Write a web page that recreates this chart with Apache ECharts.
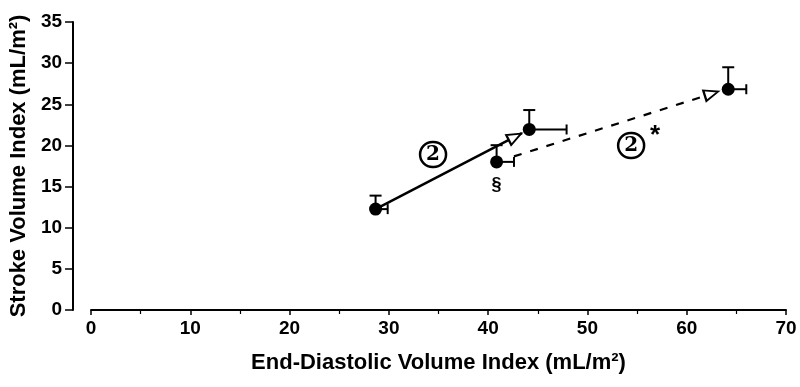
<!DOCTYPE html>
<html>
<head>
<meta charset="utf-8">
<script src="https://cdn.jsdelivr.net/npm/echarts@6/dist/echarts.min.js"></script>
<style>html,body{margin:0;padding:0;background:#fff}#c{width:800px;height:387px}</style>
</head>
<body>
<div id="c"></div>
<script>
// Points: [EDVI, SVI]
const pointNames = ['A', 'B', 'C', 'D'];
const edvi = [28.66, 44.14, 40.85, 64.18];
const svi = [12.26, 21.94, 18.0, 26.83];
// error bar extents (upper y, right x)
const sviUpper = [13.9, 24.3, 20.03, 29.5];
const edviRight = [29.88, 47.9, 42.6, 66.0];
// solid trajectory (A -> B), ending at arrow tip
const solidLine = [[28.66, 12.26], [43.4, 21.5]];
// dashed trajectory (C -> D), from C's error cap to arrow tip
const dashedLine = [[42.6, 18.67], [63.1, 26.5]];
// open arrowheads [x, y]
const arrowHeads = [[42.7, 21.05], [62.5, 26.3]];
const arrowRotate = [-62.6, -72.6];
// annotation texts [x, y]
const annoCircle = [[34.45, 18.9], [54.4, 20.0]];
const annoStar = [[56.8, 21.2]];
const annoSection = [[40.85, 15.2]];
const xTicks = [0, 10, 20, 30, 40, 50, 60, 70];
const yTicks = [0, 5, 10, 15, 20, 25, 30, 35];

const chart = echarts.init(document.getElementById('c'), null, {renderer: 'canvas'});
const F = '"Liberation Sans", Arial, sans-serif';
const S = '"DejaVu Serif", serif';

const errData = edvi.map((x, i) => [x, svi[i], sviUpper[i], edviRight[i]]);
const textItem = {color: '#000', opacity: 1};

chart.setOption({
  animation: false,
  grid: {left: 91, right: 14, top: 22, bottom: 77, containLabel: false},
  xAxis: {
    type: 'value', min: 0, max: 70, interval: 10,
    axisLine: {show: true, onZero: false, lineStyle: {color: '#000', width: 2}},
    axisTick: {show: true, length: 5, lineStyle: {color: '#000', width: 1.5}},
    minorTick: {show: true, splitNumber: 2, length: 4, lineStyle: {color: '#000', width: 1.2}},
    splitLine: {show: false},
    axisLabel: {color: '#000', fontFamily: F, fontWeight: 'bold', fontSize: 19, margin: 9},
    name: 'End-Diastolic Volume Index (mL/m²)',
    nameLocation: 'middle', nameGap: 42,
    nameTextStyle: {color: '#000', fontFamily: F, fontWeight: 'bold', fontSize: 22}
  },
  yAxis: {
    type: 'value', min: 0, max: 35, interval: 5, offset: 18,
    axisLine: {show: true, onZero: false, lineStyle: {color: '#000', width: 2}},
    axisTick: {show: true, length: 8, lineStyle: {color: '#000', width: 1.5}},
    splitLine: {show: false},
    axisLabel: {color: '#000', fontFamily: F, fontWeight: 'bold', fontSize: 19, margin: 11},
    name: 'Stroke Volume Index (mL/m²)',
    nameLocation: 'middle', nameGap: 31,
    nameTextStyle: {color: '#000', fontFamily: F, fontWeight: 'bold', fontSize: 22}
  },
  series: [
    {
      type: 'line', data: solidLine, symbol: 'none', z: 2,
      lineStyle: {color: '#000', width: 2.5}
    },
    {
      type: 'line', data: dashedLine, symbol: 'none', z: 2,
      lineStyle: {color: '#000', width: 2.2, type: [8, 9]}
    },
    {
      type: 'custom', data: errData, z: 3,
      renderItem: function (params, api) {
        const p = api.coord([api.value(0), api.value(1)]);
        const up = api.coord([api.value(0), api.value(2)]);
        const rt = api.coord([api.value(3), api.value(1)]);
        const st = {stroke: '#000', lineWidth: 2};
        return {type: 'group', children: [
          {type: 'line', shape: {x1: p[0], y1: p[1], x2: up[0], y2: up[1]}, style: st},
          {type: 'line', shape: {x1: up[0] - 6, y1: up[1], x2: up[0] + 6, y2: up[1]}, style: st},
          {type: 'line', shape: {x1: p[0], y1: p[1], x2: rt[0], y2: rt[1]}, style: st},
          {type: 'line', shape: {x1: rt[0], y1: rt[1] - 5, x2: rt[0], y2: rt[1] + 5}, style: st}
        ]};
      }
    },
    {
      type: 'scatter', data: edvi.map((x, i) => [x, svi[i]]), z: 4,
      symbol: 'circle', symbolSize: 13,
      itemStyle: {color: '#000', opacity: 1}
    },
    {
      type: 'scatter', z: 4,
      data: arrowHeads.map((p, i) => ({value: p, symbolRotate: arrowRotate[i]})),
      symbol: 'triangle', symbolSize: [11, 14],
      itemStyle: {color: '#fff', borderColor: '#000', borderWidth: 2, opacity: 1}
    },
    {
      type: 'scatter', z: 5, symbolSize: 0, itemStyle: textItem,
      data: annoCircle,
      label: {
        show: true, position: 'inside', formatter: '{c|2}', color: '#000',
        fontFamily: S, fontWeight: 'bold', fontSize: 20,
        rich: {c: {width: 24, height: 24, lineHeight: 24, align: 'center', borderRadius: 14,
          borderWidth: 2.5, borderColor: '#000', color: '#000', fontSize: 20, fontWeight: 'bold',
          fontFamily: S, padding: [1, 1, 0, 1]}}
      }
    },
    {
      type: 'scatter', z: 5, symbolSize: 0, itemStyle: textItem,
      data: annoStar,
      label: {show: true, position: 'inside', formatter: '*', color: '#000', fontSize: 26,
        fontWeight: 'bold', fontFamily: F}
    },
    {
      type: 'scatter', z: 5, symbolSize: 0, itemStyle: textItem,
      data: annoSection,
      label: {show: true, position: 'inside', formatter: '§', color: '#000', fontSize: 18,
        fontWeight: 'bold', fontFamily: F}
    }
  ]
});
</script>
</body>
</html>
